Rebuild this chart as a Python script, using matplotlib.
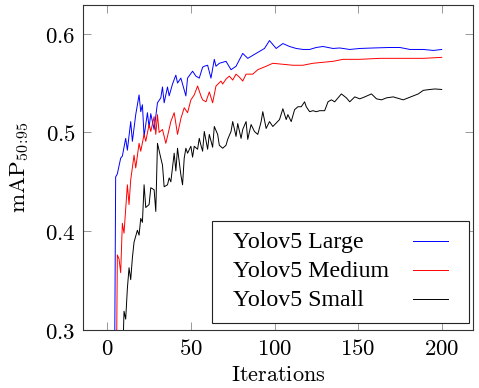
import matplotlib
matplotlib.use("Agg")
import matplotlib.pyplot as plt
from matplotlib.patches import Rectangle

# mAP curves
large_x = [4, 5, 6, 8, 9, 11, 12, 14, 15, 17,
           19, 20, 21, 22, 24, 25, 26, 28, 30, 32,
           33, 34, 36, 37, 39, 41, 42, 44, 47, 48,
           51, 53, 55, 57, 58, 60, 62, 64, 65, 67,
           71, 74, 77, 81, 84, 87, 91, 94, 97, 101,
           105, 109, 113, 117, 121, 125, 129, 135, 139, 145,
           151, 159, 169, 175, 181, 189, 195, 200]
large_y = [0.15, 0.455, 0.458, 0.474, 0.476, 0.494, 0.482, 0.511, 0.491, 0.518,
           0.538, 0.521, 0.528, 0.496, 0.520, 0.505, 0.519, 0.503, 0.530, 0.535,
           0.546, 0.530, 0.546, 0.537, 0.549, 0.558, 0.550, 0.555, 0.537, 0.555,
           0.562, 0.557, 0.555, 0.566, 0.567, 0.568, 0.555, 0.574, 0.567, 0.570,
           0.572, 0.5635, 0.567, 0.580, 0.575, 0.578, 0.582, 0.585, 0.593, 0.585,
           0.590, 0.587, 0.585, 0.584, 0.584, 0.586, 0.587, 0.585, 0.5855, 0.584,
           0.585, 0.5855, 0.586, 0.586, 0.584, 0.584, 0.583, 0.584]

medium_x = [5, 6, 7, 8, 9, 10, 12, 13, 14, 16,
            17, 19, 20, 22, 23, 25, 26, 28, 29, 30,
            31, 33, 35, 36, 38, 40, 42, 44, 46, 48,
            50, 52, 54, 56, 57, 59, 61, 63, 65, 68,
            69, 71, 73, 75, 77, 79, 81, 83, 87, 90,
            95, 99, 105, 111, 117, 123, 129, 135, 141, 145,
            151, 163, 175, 189, 200]
medium_y = [0.15, 0.376, 0.372, 0.358, 0.408, 0.398, 0.447, 0.427, 0.452, 0.477,
            0.464, 0.489, 0.481, 0.498, 0.491, 0.508, 0.501, 0.516, 0.498, 0.518,
            0.500, 0.503, 0.489, 0.496, 0.511, 0.520, 0.498, 0.514, 0.525, 0.520,
            0.533, 0.538, 0.547, 0.537, 0.533, 0.531, 0.541, 0.530, 0.547, 0.552,
            0.549, 0.554, 0.557, 0.553, 0.559, 0.556, 0.552, 0.559, 0.559, 0.5635,
            0.567, 0.570, 0.569, 0.568, 0.568, 0.570, 0.571, 0.572, 0.574, 0.574,
            0.574, 0.575, 0.575, 0.575, 0.576]

small_x = [8, 10, 11, 12, 13, 14, 15, 16, 17, 18,
           19, 20, 21, 22, 23, 25, 26, 28, 29, 30,
           32, 33, 34, 36, 37, 38, 40, 41, 42, 44,
           45, 46, 47, 48, 50, 51, 52, 54, 55, 56,
           57, 58, 60, 61, 63, 64, 66, 67, 69, 71,
           72, 74, 75, 77, 78, 80, 81, 83, 84, 86,
           88, 90, 92, 93, 95, 97, 99, 101, 103, 105,
           107, 108, 110, 112, 114, 116, 118, 119, 121, 123,
           125, 127, 130, 132, 134, 136, 138, 140, 143, 145,
           148, 151, 154, 158, 161, 164, 167, 171, 177, 180,
           183, 186, 189, 193, 196, 200]
small_y = [0.20, 0.319, 0.311, 0.342, 0.363, 0.351, 0.373, 0.389, 0.395, 0.401,
           0.396, 0.413, 0.409, 0.447, 0.424, 0.427, 0.444, 0.442, 0.420, 0.489,
           0.474, 0.467, 0.445, 0.447, 0.454, 0.450, 0.479, 0.461, 0.484, 0.457,
           0.447, 0.474, 0.484, 0.479, 0.486, 0.475, 0.486, 0.483, 0.494, 0.487,
           0.481, 0.501, 0.483, 0.498, 0.485, 0.506, 0.498, 0.487, 0.484, 0.487,
           0.493, 0.501, 0.511, 0.496, 0.509, 0.494, 0.503, 0.511, 0.493, 0.508,
           0.501, 0.498, 0.511, 0.521, 0.504, 0.511, 0.506, 0.5095, 0.513, 0.524,
           0.513, 0.518, 0.511, 0.523, 0.526, 0.526, 0.531, 0.526, 0.521, 0.522,
           0.521, 0.522, 0.522, 0.531, 0.533, 0.531, 0.535, 0.539, 0.535, 0.531,
           0.536, 0.534, 0.536, 0.539, 0.534, 0.533, 0.535, 0.536, 0.533, 0.535,
           0.537, 0.539, 0.5426, 0.5435, 0.544, 0.5435]

series_names = ["Yolov5 Large", "Yolov5 Medium", "Yolov5 Small"]
series_colors = ["#0000ff", "#ff0000", "#000000"]

x_ticks = [0, 50, 100, 150, 200]
y_ticks = [0.3, 0.4, 0.5, 0.6]

plt.rcParams["mathtext.fontset"] = "cm"

fig = plt.figure(figsize=(4.79, 3.88), dpi=100)
ax = fig.add_axes([0.1727, 0.1495, 0.8154, 0.8376])

curves = [(large_x, large_y), (medium_x, medium_y), (small_x, small_y)]
for (xs, ys), c in zip(curves, series_colors):
    ax.plot(xs, ys, color=c, lw=0.7)

ax.set_xlim(-14.7, 218.9)
ax.set_ylim(0.3, 0.629)
ax.set_xticks(x_ticks, labels=[f"${t}$" for t in x_ticks])
ax.set_yticks(y_ticks, labels=[f"${t}$" for t in y_ticks])
ax.tick_params(direction="in", length=5.5, width=0.6, color="#888888",
               top=True, right=True, labelsize=16.5, pad=5)
for s in ax.spines.values():
    s.set_color("#333333")
    s.set_linewidth(0.8)

ax.set_xlabel(r"$\mathrm{Iterations}$", fontsize=16, labelpad=4)
ax.set_ylabel(r"$\mathrm{mAP}_{50\!:\!95}$", fontsize=16.5, labelpad=10)

# legend drawn by hand: text left, sample line right
ax.add_patch(Rectangle((0.3318, 0.0206), 0.6562, 0.3157, transform=ax.transAxes,
                       facecolor="white", edgecolor="#222222", lw=0.8, zorder=5))
row_line_y = [0.2729, 0.1837, 0.0945]
row_text_y = [0.2514, 0.1622, 0.0738]
for name, c, ly, ty in zip(series_names, series_colors, row_line_y, row_text_y):
    ax.text(0.3856, ty, name, transform=ax.transAxes, fontsize=17.2,
            family="Liberation Serif", va="baseline", zorder=6)
    ax.plot([0.8456, 0.9352], [ly, ly], transform=ax.transAxes, color=c,
            lw=0.7, zorder=6, clip_on=False)

fig.savefig("out.png", dpi=100)
